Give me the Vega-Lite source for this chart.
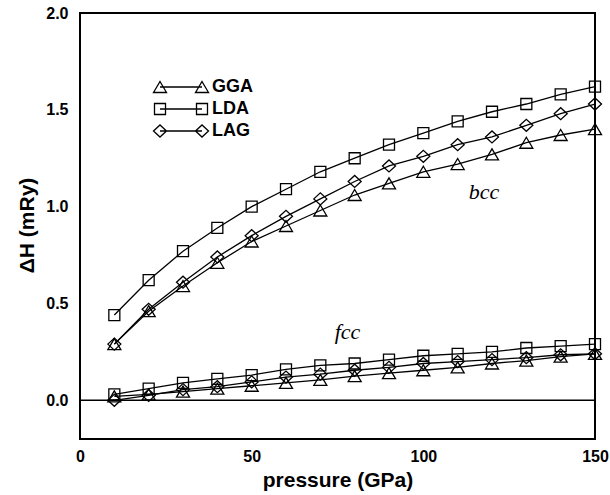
{
  "$schema": "https://vega.github.io/schema/vega-lite/v6.json",
  "width": 515,
  "height": 426,
  "autosize": {"type": "none"},
  "padding": {"left": 80, "top": 13, "right": 15, "bottom": 56},
  "background": "white",
  "config": {
    "view": {"stroke": "black", "strokeWidth": 2},
    "font": "Liberation Sans",
    "axis": {
      "domain": false,
      "grid": false,
      "labelFont": "Liberation Sans",
      "labelFontWeight": "bold",
      "labelFontSize": 16,
      "labelColor": "black",
      "labelFlush": false,
      "labelOverlap": false,
      "titleFont": "Liberation Sans",
      "titleFontWeight": "bold",
      "titleFontSize": 21,
      "titleColor": "black",
      "tickColor": "black",
      "tickWidth": 1,
      "tickSize": 0
    }
  },
  "data": {
    "values": [
      {"pressure": 10, "dH": 0.29, "method": "GGA", "phase": "bcc"},
      {"pressure": 20, "dH": 0.46, "method": "GGA", "phase": "bcc"},
      {"pressure": 30, "dH": 0.59, "method": "GGA", "phase": "bcc"},
      {"pressure": 40, "dH": 0.71, "method": "GGA", "phase": "bcc"},
      {"pressure": 50, "dH": 0.82, "method": "GGA", "phase": "bcc"},
      {"pressure": 60, "dH": 0.90, "method": "GGA", "phase": "bcc"},
      {"pressure": 70, "dH": 0.98, "method": "GGA", "phase": "bcc"},
      {"pressure": 80, "dH": 1.06, "method": "GGA", "phase": "bcc"},
      {"pressure": 90, "dH": 1.12, "method": "GGA", "phase": "bcc"},
      {"pressure": 100, "dH": 1.18, "method": "GGA", "phase": "bcc"},
      {"pressure": 110, "dH": 1.22, "method": "GGA", "phase": "bcc"},
      {"pressure": 120, "dH": 1.27, "method": "GGA", "phase": "bcc"},
      {"pressure": 130, "dH": 1.33, "method": "GGA", "phase": "bcc"},
      {"pressure": 140, "dH": 1.37, "method": "GGA", "phase": "bcc"},
      {"pressure": 150, "dH": 1.40, "method": "GGA", "phase": "bcc"},
      {"pressure": 10, "dH": 0.44, "method": "LDA", "phase": "bcc"},
      {"pressure": 20, "dH": 0.62, "method": "LDA", "phase": "bcc"},
      {"pressure": 30, "dH": 0.77, "method": "LDA", "phase": "bcc"},
      {"pressure": 40, "dH": 0.89, "method": "LDA", "phase": "bcc"},
      {"pressure": 50, "dH": 1.00, "method": "LDA", "phase": "bcc"},
      {"pressure": 60, "dH": 1.09, "method": "LDA", "phase": "bcc"},
      {"pressure": 70, "dH": 1.18, "method": "LDA", "phase": "bcc"},
      {"pressure": 80, "dH": 1.25, "method": "LDA", "phase": "bcc"},
      {"pressure": 90, "dH": 1.32, "method": "LDA", "phase": "bcc"},
      {"pressure": 100, "dH": 1.38, "method": "LDA", "phase": "bcc"},
      {"pressure": 110, "dH": 1.44, "method": "LDA", "phase": "bcc"},
      {"pressure": 120, "dH": 1.49, "method": "LDA", "phase": "bcc"},
      {"pressure": 130, "dH": 1.53, "method": "LDA", "phase": "bcc"},
      {"pressure": 140, "dH": 1.58, "method": "LDA", "phase": "bcc"},
      {"pressure": 150, "dH": 1.62, "method": "LDA", "phase": "bcc"},
      {"pressure": 10, "dH": 0.29, "method": "LAG", "phase": "bcc"},
      {"pressure": 20, "dH": 0.47, "method": "LAG", "phase": "bcc"},
      {"pressure": 30, "dH": 0.61, "method": "LAG", "phase": "bcc"},
      {"pressure": 40, "dH": 0.74, "method": "LAG", "phase": "bcc"},
      {"pressure": 50, "dH": 0.85, "method": "LAG", "phase": "bcc"},
      {"pressure": 60, "dH": 0.95, "method": "LAG", "phase": "bcc"},
      {"pressure": 70, "dH": 1.04, "method": "LAG", "phase": "bcc"},
      {"pressure": 80, "dH": 1.13, "method": "LAG", "phase": "bcc"},
      {"pressure": 90, "dH": 1.21, "method": "LAG", "phase": "bcc"},
      {"pressure": 100, "dH": 1.26, "method": "LAG", "phase": "bcc"},
      {"pressure": 110, "dH": 1.32, "method": "LAG", "phase": "bcc"},
      {"pressure": 120, "dH": 1.36, "method": "LAG", "phase": "bcc"},
      {"pressure": 130, "dH": 1.42, "method": "LAG", "phase": "bcc"},
      {"pressure": 140, "dH": 1.48, "method": "LAG", "phase": "bcc"},
      {"pressure": 150, "dH": 1.53, "method": "LAG", "phase": "bcc"},
      {"pressure": 10, "dH": 0.02, "method": "GGA", "phase": "fcc"},
      {"pressure": 20, "dH": 0.03, "method": "GGA", "phase": "fcc"},
      {"pressure": 30, "dH": 0.045, "method": "GGA", "phase": "fcc"},
      {"pressure": 40, "dH": 0.06, "method": "GGA", "phase": "fcc"},
      {"pressure": 50, "dH": 0.075, "method": "GGA", "phase": "fcc"},
      {"pressure": 60, "dH": 0.09, "method": "GGA", "phase": "fcc"},
      {"pressure": 70, "dH": 0.105, "method": "GGA", "phase": "fcc"},
      {"pressure": 80, "dH": 0.125, "method": "GGA", "phase": "fcc"},
      {"pressure": 90, "dH": 0.14, "method": "GGA", "phase": "fcc"},
      {"pressure": 100, "dH": 0.155, "method": "GGA", "phase": "fcc"},
      {"pressure": 110, "dH": 0.17, "method": "GGA", "phase": "fcc"},
      {"pressure": 120, "dH": 0.19, "method": "GGA", "phase": "fcc"},
      {"pressure": 130, "dH": 0.205, "method": "GGA", "phase": "fcc"},
      {"pressure": 140, "dH": 0.225, "method": "GGA", "phase": "fcc"},
      {"pressure": 150, "dH": 0.24, "method": "GGA", "phase": "fcc"},
      {"pressure": 10, "dH": 0.03, "method": "LDA", "phase": "fcc"},
      {"pressure": 20, "dH": 0.06, "method": "LDA", "phase": "fcc"},
      {"pressure": 30, "dH": 0.09, "method": "LDA", "phase": "fcc"},
      {"pressure": 40, "dH": 0.11, "method": "LDA", "phase": "fcc"},
      {"pressure": 50, "dH": 0.13, "method": "LDA", "phase": "fcc"},
      {"pressure": 60, "dH": 0.16, "method": "LDA", "phase": "fcc"},
      {"pressure": 70, "dH": 0.18, "method": "LDA", "phase": "fcc"},
      {"pressure": 80, "dH": 0.19, "method": "LDA", "phase": "fcc"},
      {"pressure": 90, "dH": 0.21, "method": "LDA", "phase": "fcc"},
      {"pressure": 100, "dH": 0.23, "method": "LDA", "phase": "fcc"},
      {"pressure": 110, "dH": 0.24, "method": "LDA", "phase": "fcc"},
      {"pressure": 120, "dH": 0.25, "method": "LDA", "phase": "fcc"},
      {"pressure": 130, "dH": 0.27, "method": "LDA", "phase": "fcc"},
      {"pressure": 140, "dH": 0.28, "method": "LDA", "phase": "fcc"},
      {"pressure": 150, "dH": 0.29, "method": "LDA", "phase": "fcc"},
      {"pressure": 10, "dH": 0.0, "method": "LAG", "phase": "fcc"},
      {"pressure": 20, "dH": 0.025, "method": "LAG", "phase": "fcc"},
      {"pressure": 30, "dH": 0.055, "method": "LAG", "phase": "fcc"},
      {"pressure": 40, "dH": 0.07, "method": "LAG", "phase": "fcc"},
      {"pressure": 50, "dH": 0.095, "method": "LAG", "phase": "fcc"},
      {"pressure": 60, "dH": 0.12, "method": "LAG", "phase": "fcc"},
      {"pressure": 70, "dH": 0.135, "method": "LAG", "phase": "fcc"},
      {"pressure": 80, "dH": 0.155, "method": "LAG", "phase": "fcc"},
      {"pressure": 90, "dH": 0.17, "method": "LAG", "phase": "fcc"},
      {"pressure": 100, "dH": 0.19, "method": "LAG", "phase": "fcc"},
      {"pressure": 110, "dH": 0.20, "method": "LAG", "phase": "fcc"},
      {"pressure": 120, "dH": 0.21, "method": "LAG", "phase": "fcc"},
      {"pressure": 130, "dH": 0.22, "method": "LAG", "phase": "fcc"},
      {"pressure": 140, "dH": 0.235, "method": "LAG", "phase": "fcc"},
      {"pressure": 150, "dH": 0.24, "method": "LAG", "phase": "fcc"}
    ]
  },
  "resolve": {"axis": {"x": "independent", "y": "independent"}},
  "layer": [
    {
      "data": {"values": [{"level": 0}]},
      "mark": {"type": "rule", "color": "black", "strokeWidth": 1.3},
      "encoding": {
        "y": {"field": "level", "type": "quantitative", "axis": null}
      }
    },
    {
      "mark": {"type": "line", "color": "black", "strokeWidth": 1.3},
      "encoding": {
        "x": {
          "field": "pressure",
          "type": "quantitative",
          "scale": {"domain": [0, 150], "nice": false, "zero": false},
          "axis": {
            "orient": "bottom",
            "values": [0, 25, 50, 75, 100, 125, 150],
            "labelExpr": "datum.value % 50 === 0 ? datum.label : ''",
            "labelPadding": 9,
            "title": "pressure (GPa)",
            "titleBaseline": "alphabetic",
            "titleY": 47,
            "encode": {"ticks": {"update": {"y2": {"signal": "datum.value % 50 === 0 ? -6 : -3"}}}}
          }
        },
        "y": {
          "field": "dH",
          "type": "quantitative",
          "scale": {"domain": [-0.2, 2.0], "nice": false, "zero": false},
          "axis": {
            "orient": "left",
            "values": [0, 0.25, 0.5, 0.75, 1, 1.25, 1.5, 1.75, 2],
            "labelExpr": "(datum.value * 4) % 2 === 0 ? format(datum.value, '.1f') : ''",
            "labelPadding": 12,
            "title": "ΔH (mRy)",
            "titleBaseline": "alphabetic",
            "titleX": -47,
            "titleY": 212,
            "encode": {"ticks": {"update": {"x2": {"signal": "(datum.value * 4) % 2 === 0 ? 6 : 3"}}}}
          }
        },
        "detail": [{"field": "method"}, {"field": "phase"}]
      }
    },
    {
      "transform": [{"filter": "datum.method === 'GGA'"}],
      "mark": {"type": "point", "shape": "M0,-1.1L1.3,1.1L-1.3,1.1Z", "filled": false, "strokeWidth": 1.3, "size": 100, "opacity": 1},
      "encoding": {
        "x": {
          "field": "pressure",
          "type": "quantitative",
          "axis": {
            "orient": "top",
            "values": [0, 25, 50, 75, 100, 125, 150],
            "labels": false,
            "title": null,
            "encode": {"ticks": {"update": {"y2": {"signal": "datum.value % 50 === 0 ? 6 : 3"}}}}
          }
        },
        "y": {
          "field": "dH",
          "type": "quantitative",
          "axis": {
            "orient": "right",
            "values": [0, 0.25, 0.5, 0.75, 1, 1.25, 1.5, 1.75, 2],
            "labels": false,
            "title": null,
            "encode": {"ticks": {"update": {"x2": {"signal": "(datum.value * 4) % 2 === 0 ? -6 : -3"}}}}
          }
        },
        "color": {
          "field": "method",
          "type": "nominal",
          "scale": {"domain": ["GGA", "LDA", "LAG"], "range": ["black", "black", "black"]},
          "legend": {
            "orient": "none",
            "legendX": 71,
            "legendY": 65,
            "title": null,
            "padding": 0,
            "rowPadding": 4,
            "labelFont": "Liberation Sans",
            "labelFontWeight": "bold",
            "labelFontSize": 18,
            "labelColor": "black",
            "labelOffset": 43,
            "symbolSize": 100,
            "symbolStrokeWidth": 1.3,
            "symbolFillColor": "transparent",
            "symbolType": {"expr": "datum.value === 'GGA' ? 'M0,-1.1L1.3,1.1L-1.3,1.1ZM0,0L8.4,0M8.4,-1.1L9.7,1.1L7.1,1.1Z' : datum.value === 'LDA' ? 'M-1.1,-1.1L1.1,-1.1L1.1,1.1L-1.1,1.1ZM0,0L8.4,0M7.3,-1.1L9.5,-1.1L9.5,1.1L7.3,1.1Z' : 'M-1.3,0L0,-1.2L1.3,0L0,1.2ZM0,0L8.4,0M7.1,0L8.4,-1.2L9.7,0L8.4,1.2Z'"}
          }
        }
      }
    },
    {
      "transform": [{"filter": "datum.method === 'LDA'"}],
      "mark": {"type": "point", "shape": "M-1.1,-1.1L1.1,-1.1L1.1,1.1L-1.1,1.1Z", "filled": false, "stroke": "black", "strokeWidth": 1.3, "size": 100, "opacity": 1},
      "encoding": {
        "x": {"field": "pressure", "type": "quantitative", "axis": null},
        "y": {"field": "dH", "type": "quantitative", "axis": null}
      }
    },
    {
      "transform": [{"filter": "datum.method === 'LAG'"}],
      "mark": {"type": "point", "shape": "M-1.3,0L0,-1.2L1.3,0L0,1.2Z", "filled": false, "stroke": "black", "strokeWidth": 1.3, "size": 100, "opacity": 1},
      "encoding": {
        "x": {"field": "pressure", "type": "quantitative", "axis": null},
        "y": {"field": "dH", "type": "quantitative", "axis": null}
      }
    },
    {
      "data": {
        "values": [
          {"label": "bcc", "pressure": 117.7, "dH": 1.04},
          {"label": "fcc", "pressure": 77.9, "dH": 0.315}
        ]
      },
      "mark": {"type": "text", "font": "Liberation Serif", "fontStyle": "italic", "fontSize": 22, "align": "center", "baseline": "alphabetic", "color": "black"},
      "encoding": {
        "x": {"field": "pressure", "type": "quantitative", "axis": null},
        "y": {"field": "dH", "type": "quantitative", "axis": null},
        "text": {"field": "label"}
      }
    }
  ]
}
